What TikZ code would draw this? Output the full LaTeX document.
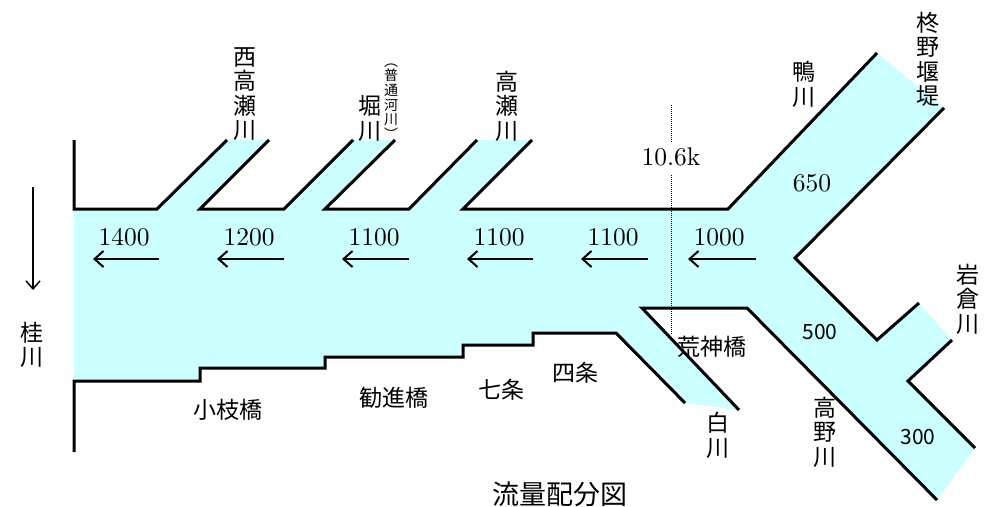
\documentclass[tikz,border=0pt]{standalone}
\usepackage{fontspec}
\newfontfamily\jp{Noto Sans CJK JP}
\newfontfamily\num{lmroman10-regular.otf}
\usetikzlibrary{arrows.meta}
\definecolor{water}{HTML}{CCFFFF}
\begin{document}
\begin{tikzpicture}[x=1pt,y=-1pt,
  bank/.style={line width=3pt},
  flow/.style={line width=2pt,-{Straight Barb[length=9pt,width=16pt,line width=2pt]}},
  vname/.style={font=\jp\fontsize{23}{24.5}\selectfont,align=center,inner sep=0pt},
  smallname/.style={font=\jp\fontsize{14}{14.6}\selectfont,align=center,inner sep=0pt},
  place/.style={font=\jp\fontsize{23}{23}\selectfont,inner sep=0pt},
  qty/.style={font=\num\fontsize{25.5}{25.5}\selectfont,inner sep=0pt},
  sqty/.style={font=\jp\fontsize{21}{21}\selectfont,inner sep=0pt}]
  \useasboundingbox (0,0) rectangle (987,506);
  % water
  \fill[water] (74,209) -- (157,209) -- (227,140) -- (269,140) -- (200,209)
    -- (284,209) -- (353,140) -- (395,140) -- (325,209) -- (409,209)
    -- (477,140) -- (532,140) -- (463,209) -- (728,209) -- (877,53)
    -- (944,108) -- (795,258) -- (877,340) -- (919,303) -- (952,340)
    -- (908,381) -- (975,448) -- (937,500) -- (747,308) -- (642,308)
    -- (739,410) -- (685,403) -- (616,333) -- (533,333) -- (533,345)
    -- (463,345) -- (463,357) -- (325,357) -- (325,368) -- (200,368)
    -- (200,381) -- (74,381) -- cycle;
  % banks
  \draw[bank] (74,140) -- (74,209) -- (157,209) -- (227,140);
  \draw[bank] (269,140) -- (200,209) -- (284,209) -- (353,140);
  \draw[bank] (395,140) -- (325,209) -- (409,209) -- (477,140);
  \draw[bank] (532,140) -- (463,209) -- (728,209) -- (877,53);
  \draw[bank] (944,108) -- (795,258) -- (877,340) -- (919,303);
  \draw[bank] (952,340) -- (908,381) -- (975,448);
  \draw[bank] (739,410) -- (642,308) -- (747,308) -- (937,500);
  \draw[bank] (74,452) -- (74,381) -- (200,381) -- (200,368) -- (325,368)
    -- (325,357) -- (463,357) -- (463,345) -- (533,345) -- (533,333)
    -- (616,333) -- (685,403);
  % 10.6k
  \node[qty] (km) at (671,157) {10.6k};
  \draw[densely dotted,line width=1pt] (671,105) -- ([yshift=5pt]km.north);
  \draw[densely dotted,line width=1pt] ([yshift=-9pt]km.south) -- (671,334);
  % flows
  \node[qty] (q1) at (124,237) {1400};
  \node[qty] (q2) at (249,237) {1200};
  \node[qty] (q3) at (374,237) {1100};
  \node[qty] (q4) at (499,237) {1100};
  \node[qty] (q5) at (613,237) {1100};
  \node[qty] (q6) at (719,237) {1000};
  \node[qty] (q7) at (812,183) {650};
  \node[sqty] (q8) at (820,332) {500};
  \node[sqty] (q9) at (918,437) {300};
  \draw[flow] (159,259) -- (93,259);
  \draw[flow] (284,259) -- (217,259);
  \draw[flow] (409,259) -- (342,259);
  \draw[flow] (533,259) -- (467,259);
  \draw[flow] (648,259) -- (581,259);
  \draw[flow] (756,259) -- (688,259);
  \draw[line width=1.5pt,-{Straight Barb[length=8pt,width=14pt,line width=1.5pt]}] (33,187) -- (33,290);
  % rivers
  \node[vname] (katsura) at (32,345) {桂\\川};
  \node[vname] (nishitakase) at (245,94) {西\\高\\瀬\\川};
  \node[vname] (hori) at (370,118.5) {堀\\川};
  \node[smallname] (futsu) at (391,101.5) {︵\\普\\通\\河\\川\\︶};
  \node[vname] (takase) at (507,106) {高\\瀬\\川};
  \node[vname] (kamo) at (804,84.5) {鴨\\川};
  \node[vname] (hiiragino) at (928,59) {柊\\野\\堰\\堤};
  \node[vname] (iwakura) at (968,299) {岩\\倉\\川};
  \node[vname] (shira) at (718,435.5) {白\\川};
  \node[vname] (takano) at (825,432) {高\\野\\川};
  % bridges
  \node[place] (koeda) at (228,410) {小枝橋};
  \node[place] (kanjin) at (394,398) {勧進橋};
  \node[place] (shichijo) at (501,390) {七条};
  \node[place] (shijo) at (575,373) {四条};
  \node[place] (kojin) at (712,347) {荒神橋};
  \node[font=\jp\fontsize{27}{27}\selectfont,inner sep=0pt] (title) at (560,494) {流量配分図};
\end{tikzpicture}
\end{document}
